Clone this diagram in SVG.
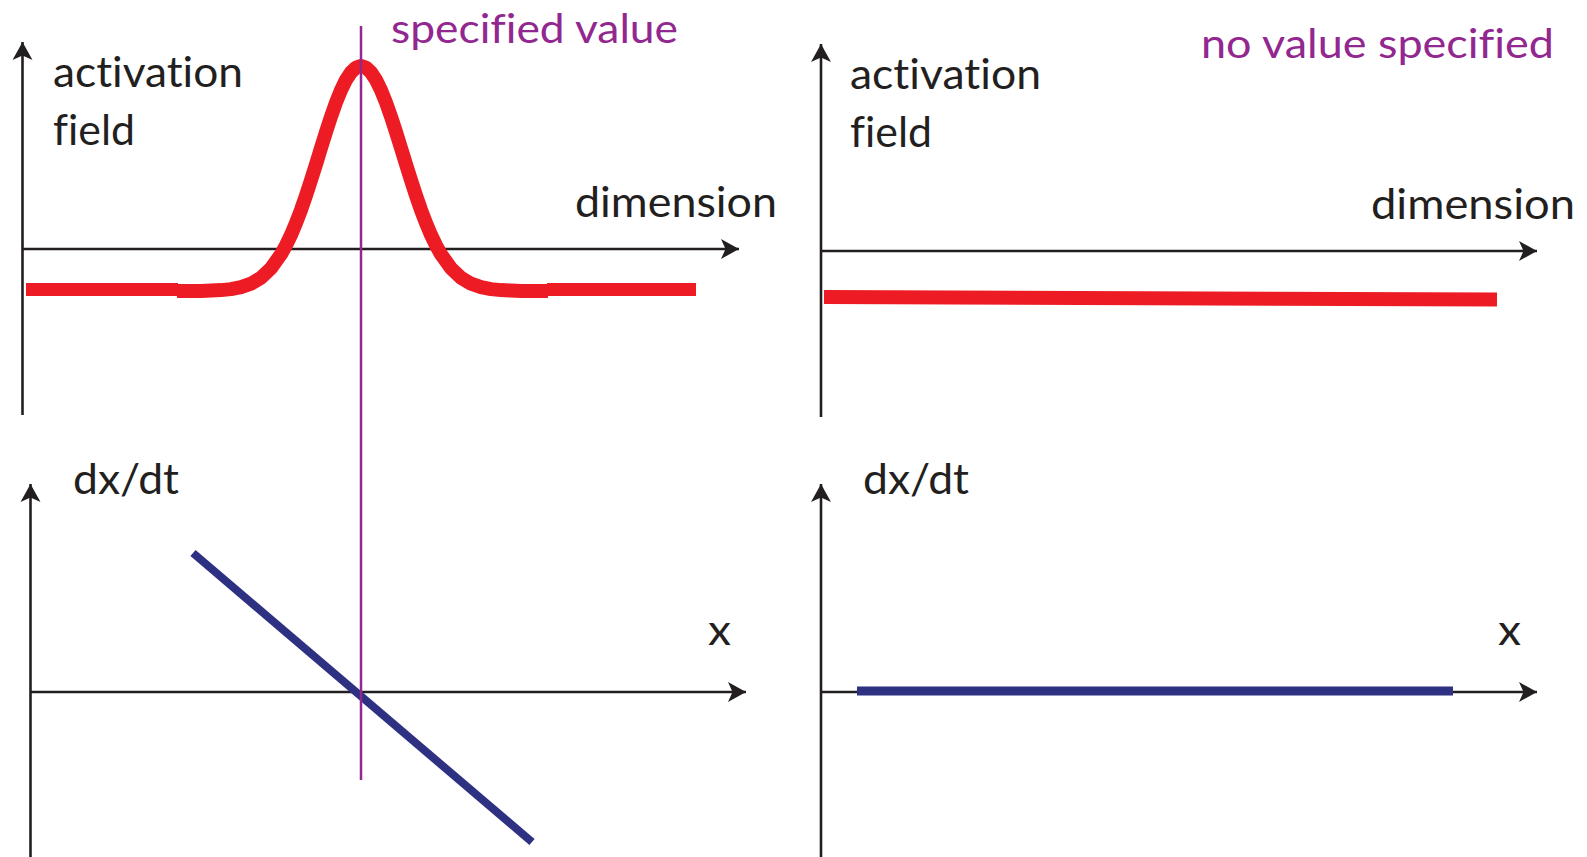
<svg xmlns="http://www.w3.org/2000/svg" width="1587" height="857" viewBox="0 0 1587 857">
<style>
.lbl{font-family:"Lato","Open Sans","Liberation Sans",sans-serif;font-size:42px;fill:#231f20;font-variant-ligatures:none}
.pur{font-family:"Lato","Open Sans","Liberation Sans",sans-serif;font-size:41px;fill:#92278f;font-variant-ligatures:none}
.axis{stroke:#231f20;stroke-width:2.6;fill:none}
.red{stroke:#ed1c24;fill:none;stroke-linecap:butt;stroke-linejoin:round}
.blue{stroke:#2e3182;fill:none;stroke-linecap:butt}
.guide{stroke:#92278f;stroke-width:2.5}
</style>
<defs>
<marker id="ah" markerUnits="userSpaceOnUse" markerWidth="22" markerHeight="24" viewBox="-19 -12 22 24" refX="0" refY="0" orient="auto">
<path d="M0,0 L-18,-10 L-13.5,0 L-18,10 Z" fill="#231f20"/>
</marker>
</defs>
<rect width="1587" height="857" fill="#fff"/>
<g id="connectors">
<line class="axis" x1="22.5" y1="415" x2="22.5" y2="42" marker-end="url(#ah)"/>
<line class="axis" x1="22.5" y1="249" x2="739" y2="249" marker-end="url(#ah)"/>
<line class="axis" x1="821" y1="417" x2="821" y2="44" marker-end="url(#ah)"/>
<line class="axis" x1="821" y1="251" x2="1537" y2="251" marker-end="url(#ah)"/>
<line class="axis" x1="30.5" y1="857" x2="30.5" y2="484" marker-end="url(#ah)"/>
<line class="axis" x1="30.5" y1="692" x2="746" y2="692" marker-end="url(#ah)"/>
<line class="axis" x1="821" y1="857" x2="821" y2="484" marker-end="url(#ah)"/>
<line class="axis" x1="821" y1="692" x2="1537" y2="692" marker-end="url(#ah)"/>
</g>
<g id="top-left">
<line class="red" x1="26" y1="289.5" x2="178" y2="289.5" stroke-width="13"/>
<polyline class="red" stroke-width="14" points="177,291 201,290.9 211,290.6 221,290.1 231,289.1 241,287.2 251,283.7 261,277.8 271,268.3 281,254.3 286,245.3 291,234.9 296,223.1 301,209.9 306,195.5 311,180.2 316,164.3 321,148 326,132 331,116.7 336,102.5 341,90.1 346,79.9 351,72.3 356,67.6 361,66 366,67.6 371,72.3 376,79.9 381,90.1 386,102.5 391,116.7 396,132 401,148 406,164.3 411,180.2 416,195.5 421,209.9 426,223.1 431,234.9 436,245.3 441,254.3 451,268.3 461,277.8 471,283.7 481,287.2 491,289.1 501,290.1 511,290.6 521,290.9 548,291"/>
<line class="red" x1="547" y1="289.5" x2="696" y2="289.5" stroke-width="13"/>
<text class="lbl" x="53" y="87" textLength="190" lengthAdjust="spacingAndGlyphs">activation</text>
<text class="lbl" x="53" y="145" textLength="82" lengthAdjust="spacingAndGlyphs">field</text>
<text class="lbl" x="575" y="217" textLength="202" lengthAdjust="spacingAndGlyphs">dimension</text>
</g>
<g id="top-right">
<line class="red" x1="824" y1="297" x2="1497" y2="299.5" stroke-width="14"/>
<text class="lbl" x="850" y="89" textLength="191" lengthAdjust="spacingAndGlyphs">activation</text>
<text class="lbl" x="850" y="147" textLength="82" lengthAdjust="spacingAndGlyphs">field</text>
<text class="lbl" x="1371" y="219" textLength="204" lengthAdjust="spacingAndGlyphs">dimension</text>
<text class="pur" x="1201" y="58" textLength="353" lengthAdjust="spacingAndGlyphs">no value specified</text>
</g>
<g id="bottom-left">
<line class="blue" x1="193" y1="553" x2="532" y2="842" stroke-width="8"/>
<text class="lbl" x="73" y="494" textLength="106" lengthAdjust="spacingAndGlyphs">dx/dt</text>
<text class="lbl" x="708" y="645" textLength="23" lengthAdjust="spacingAndGlyphs">x</text>
</g>
<g id="bottom-right">
<line class="blue" x1="857" y1="691" x2="1453" y2="691" stroke-width="9"/>
<text class="lbl" x="863" y="494" textLength="106" lengthAdjust="spacingAndGlyphs">dx/dt</text>
<text class="lbl" x="1498" y="645" textLength="23" lengthAdjust="spacingAndGlyphs">x</text>
</g>
<g id="specified-value">
<line class="guide" x1="361" y1="26" x2="361" y2="780"/>
<text class="pur" x="391" y="43" textLength="287" lengthAdjust="spacingAndGlyphs">specified value</text>
</g>
</svg>
